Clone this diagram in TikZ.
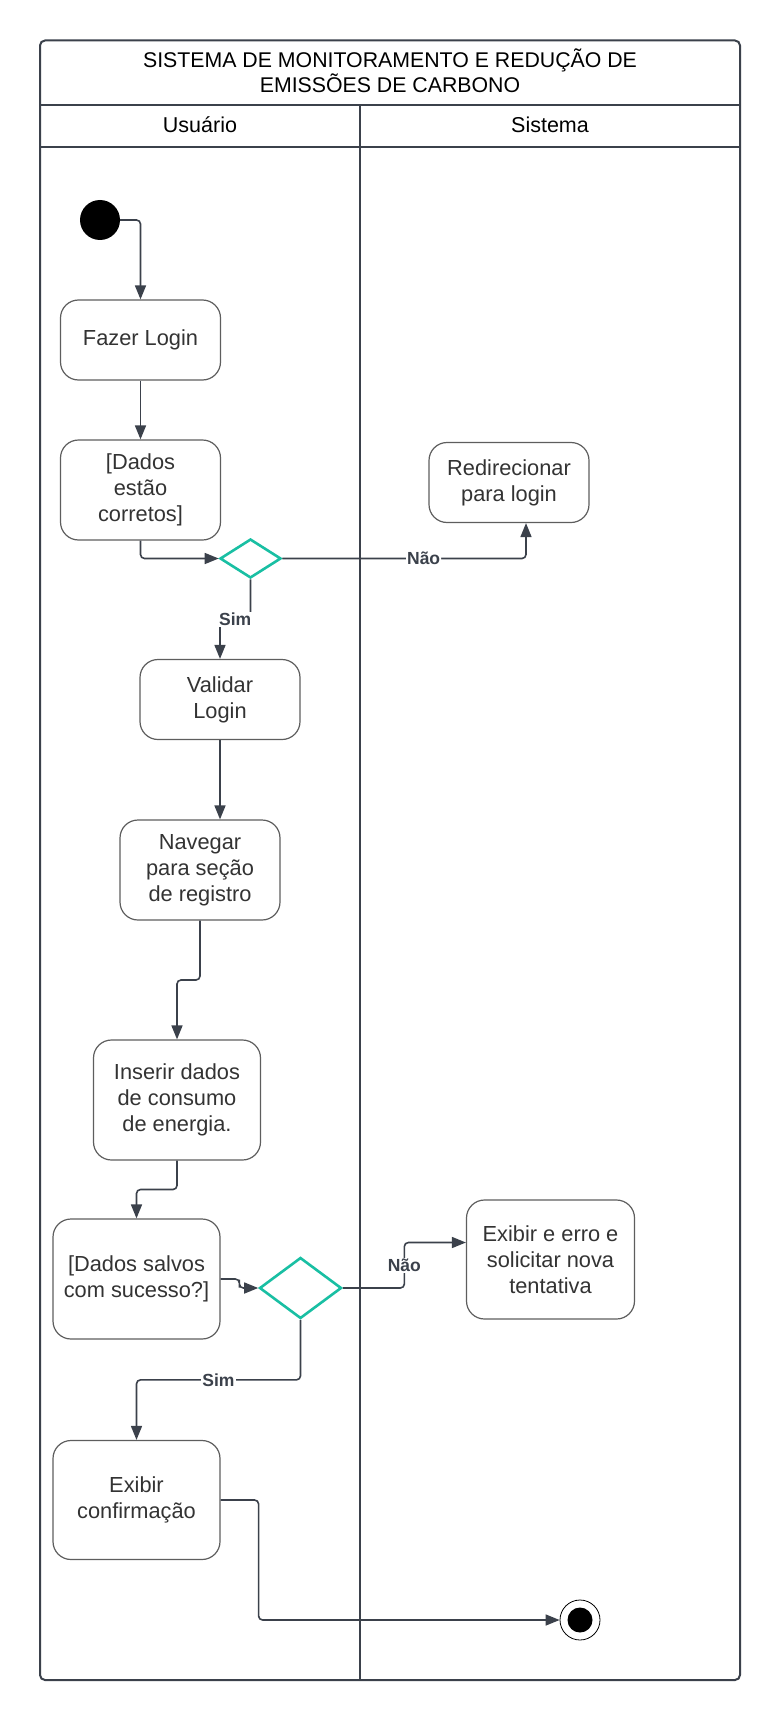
\documentclass[tikz,border=0pt]{standalone}
\usepackage{fontspec}
\setmainfont{Liberation Sans}
\usetikzlibrary{arrows.meta,calc,shapes.geometric}
\definecolor{linha}{HTML}{3B414B}
\definecolor{borda}{HTML}{5E5E5E}
\definecolor{texto}{HTML}{333333}
\definecolor{verde}{HTML}{19BFA3}
\tikzset{
	acao/.style={draw=borda,line width=1.2pt,rounded corners=18pt,fill=white,align=center,text=texto,inner sep=0pt,font=\fontsize{21.8}{25.8}\selectfont},
	decisao/.style={diamond,draw=verde,line width=2.6pt,fill=white,inner sep=0pt},
	seta/.style={draw=linha,line width=1.6pt,rounded corners=4pt,-{Triangle[length=14pt,width=11pt]}},
	rotulo/.style={fill=white,inner sep=1pt,text=linha,font=\fontsize{17.5}{17.5}\selectfont\bfseries},
	raia/.style={draw=linha,line width=2pt}
}
\begin{document}
\begin{tikzpicture}[x=1pt,y=-1pt]
		\useasboundingbox (0,0) rectangle (780,1720);
		\draw[raia,rounded corners=5pt] (40,40.5) rectangle (740,1680);
		\draw[raia] (40,105.5) -- (740,105.5);
		\draw[raia] (40,147) -- (740,147);
		\draw[raia] (360,105.5) -- (360,1680);
		\node[align=center,text=black,font=\fontsize{21.3}{25.4}\selectfont] (titulo) at (390,71) {SISTEMA DE MONITORAMENTO E REDUÇÃO DE\\EMISSÕES DE CARBONO};
		\node[text=black,font=\fontsize{21.5}{25}\selectfont] (usuario) at (200,125) {Usuário};
		\node[text=black,font=\fontsize{21.5}{25}\selectfont] (sistema) at (550,125) {Sistema};
		\node[circle,fill=black,minimum size=40pt,inner sep=0pt] (inicio) at (100,220) {};
		\node[acao,minimum width=160pt,minimum height=80pt] (login) at (140.5,340) {Fazer Login};
		\node[acao,minimum width=160pt,minimum height=100pt] (corretos) at (140.5,490) {[Dados\\estão\\corretos]};
		\node[acao,minimum width=160pt,minimum height=80pt] (redirecionar) at (509,482.5) {Redirecionar\\para login};
		\node[decisao,minimum width=61pt,minimum height=39pt] (dec1) at (250.5,558.5) {};
		\node[acao,minimum width=160pt,minimum height=80pt] (validar) at (220,699.5) {Validar\\Login};
		\node[acao,minimum width=160pt,minimum height=100pt] (navegar) at (200,870) {Navegar\\para seção\\de registro};
		\node[acao,minimum width=167pt,minimum height=120pt] (inserir) at (177,1100) {Inserir dados\\de consumo\\de energia.};
		\node[acao,minimum width=167pt,minimum height=120pt] (salvos) at (136.5,1279) {[Dados salvos\\com sucesso?]};
		\node[decisao,minimum width=82pt,minimum height=61pt] (dec2) at (300.5,1288) {};
		\node[acao,minimum width=168pt,minimum height=119pt] (erro) at (550.5,1259.5) {Exibir e erro e\\solicitar nova\\tentativa};
		\node[acao,minimum width=167pt,minimum height=119pt] (confirmacao) at (136.5,1500) {Exibir\\confirmação};
		\node[circle,draw=black,line width=0.8pt,fill=white,minimum size=40pt,inner sep=0pt] (fim) at (580,1620) {};
		\node[circle,fill=black,minimum size=25pt,inner sep=0pt] (fimint) at (fim) {};
		\draw[seta] (inicio.east) -| (login.north);
		\draw[seta] (login.south) -- (corretos.north);
		\draw[seta] (corretos.south) |- (dec1.west);
		\draw[seta] (dec1.east) -| ([xshift=17pt]redirecionar.south) node[rotulo,pos=0.29] {Não};
		\coordinate (m1) at ($(dec1.south)!0.5!(validar.north)$);
		\draw[seta] (dec1.south) |- (m1) -| (validar.north);
		\node[rotulo] (sim1) at (m1) {Sim};
		\draw[seta] (validar.south) -- (validar.south |- navegar.north);
		\coordinate (m2) at ($(navegar.south)!0.5!(inserir.north)$);
		\draw[seta] (navegar.south) |- (m2) -| (inserir.north);
		\coordinate (m3) at ($(inserir.south)!0.5!(salvos.north)$);
		\draw[seta] (inserir.south) |- (m3) -| (salvos.north);
		\coordinate (m4) at ($(salvos.east)!0.5!(dec2.west)$);
		\draw[seta] (salvos.east) -| (m4) |- (dec2.west);
		\coordinate (erroin) at ([yshift=17pt]erro.west);
		\coordinate (m5) at ($(dec2.east)!0.5!(erroin)$);
		\draw[seta] (dec2.east) -| (m5 |- erroin) -- (erroin);
		\node[rotulo] (nao2) at (m5) {Não};
		\coordinate (m6) at ($(dec2.south)!0.5!(confirmacao.north)$);
		\draw[seta] (dec2.south) |- (m6) -| (confirmacao.north);
		\node[rotulo] (sim2) at (m6) {Sim};
		\draw[seta] (confirmacao.east) -- ++(38,0) |- (fim.west);
\end{tikzpicture}
\end{document}
